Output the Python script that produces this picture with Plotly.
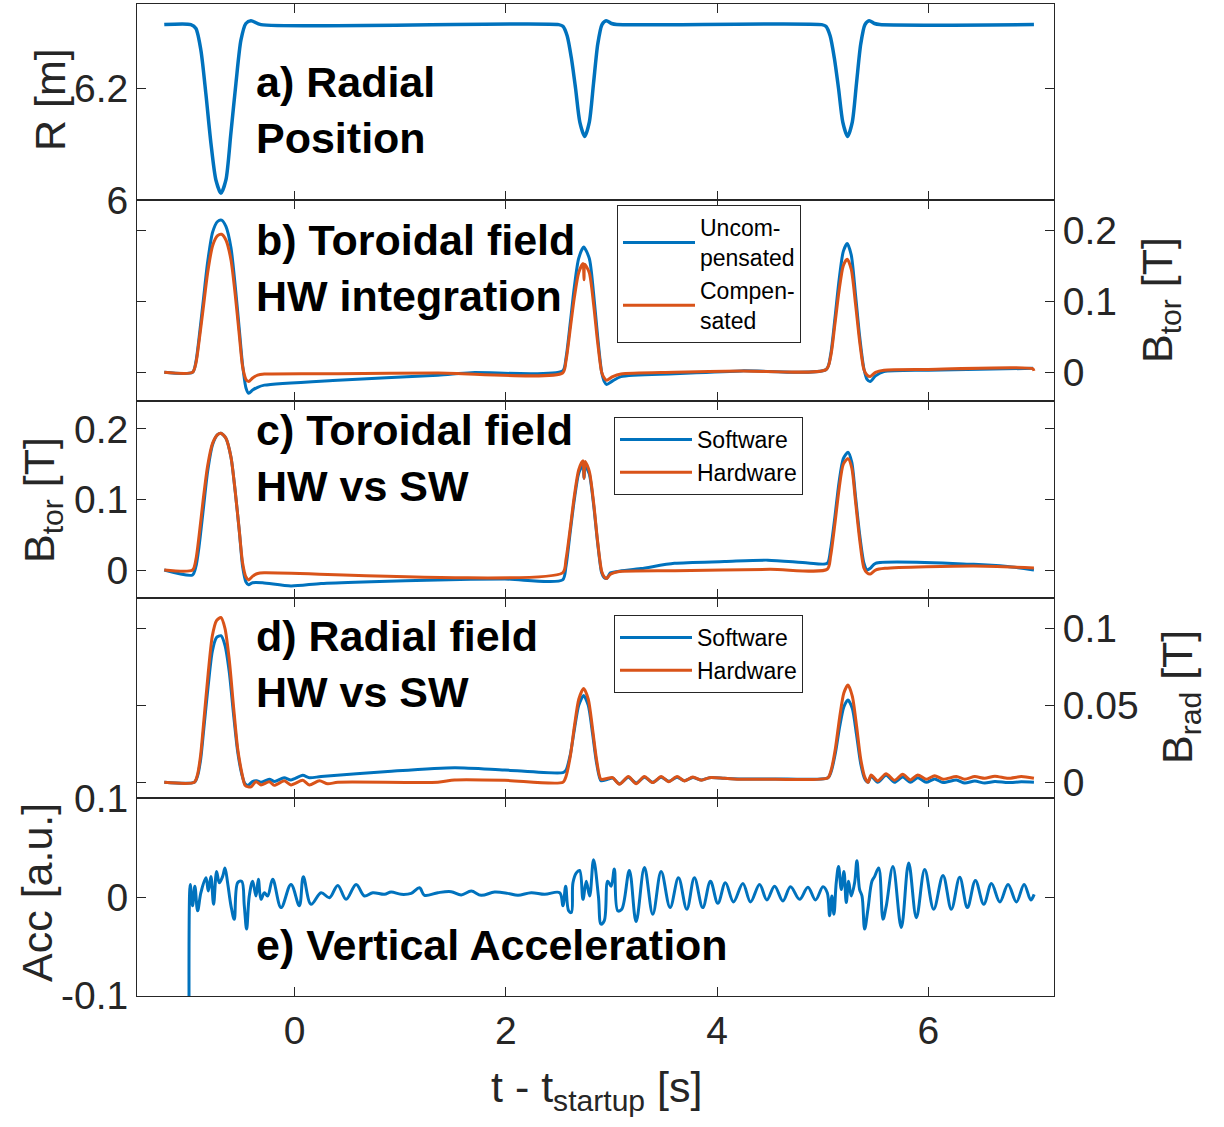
import plotly.graph_objects as go

# ---------------- data ----------------
# a) radial position
t_R = [-1.235, -0.983, -0.935, -0.888, -0.841, -0.793, -0.746, -0.698, -0.651, -0.604, -0.556, -0.509, -0.462, -0.414, -0.319,
       2.50, 2.54, 2.58, 2.62, 2.66, 2.70, 2.746, 2.79, 2.83, 2.87, 2.91, 2.95, 3.0, 3.05,
       4.99, 5.03, 5.07, 5.11, 5.15, 5.19, 5.235, 5.28, 5.32, 5.36, 5.40, 5.44, 5.49, 5.54, 7.0]
R_m = [6.315, 6.315, 6.308, 6.269, 6.191, 6.102, 6.036, 6.012, 6.036, 6.120, 6.210, 6.287, 6.317, 6.322, 6.315,
       6.315, 6.312, 6.295, 6.255, 6.20, 6.14, 6.114, 6.14, 6.21, 6.28, 6.315, 6.322, 6.317, 6.315,
       6.315, 6.312, 6.295, 6.255, 6.20, 6.14, 6.114, 6.14, 6.21, 6.28, 6.315, 6.322, 6.317, 6.315, 6.315]

# b) toroidal field, HW integration
t_b_unc = [-1.235, -0.967, -0.935, -0.904, -0.866, -0.824, -0.777, -0.730, -0.692, -0.651, -0.603, -0.562, -0.524, -0.493, -0.461, -0.436, -0.398, -0.351, -0.287, 0.408, 1.356, 1.672,
           2.537, 2.569, 2.610, 2.648, 2.689, 2.736, 2.79, 2.831, 2.869, 2.907, 2.932, 2.954, 3.011, 3.090, 3.596, 4.228, 5.033,
           5.075, 5.115, 5.155, 5.195, 5.232, 5.27, 5.31, 5.35, 5.39, 5.42, 5.45, 5.50, 5.58, 6.0, 6.99]
B_b_unc = [0.0, 0.0, 0.015, 0.05, 0.10, 0.155, 0.197, 0.212, 0.214, 0.205, 0.175, 0.12, 0.06, 0.01, -0.022, -0.0295, -0.025, -0.021, -0.018, -0.011, -0.004, -0.0005,
           0.002, 0.02, 0.07, 0.12, 0.16, 0.176, 0.16, 0.11, 0.05, 0.0, -0.013, -0.017, -0.012, -0.006, -0.002, 0.002, 0.004,
           0.025, 0.075, 0.13, 0.17, 0.181, 0.165, 0.11, 0.05, 0.005, -0.01, -0.013, -0.005, 0.001, 0.003, 0.0056]
t_b_comp = [-1.235, -0.967, -0.935, -0.904, -0.866, -0.824, -0.777, -0.730, -0.692, -0.651, -0.603, -0.562, -0.524, -0.493, -0.461, -0.436, -0.398, -0.351, -0.287, 0.408, 1.356, 2.537,
            2.569, 2.610, 2.648, 2.689, 2.730, 2.740, 2.746, 2.79, 2.831, 2.869, 2.907, 2.932, 2.954, 3.011, 3.090, 3.596, 4.228, 5.033,
            5.075, 5.115, 5.155, 5.195, 5.232, 5.27, 5.31, 5.35, 5.39, 5.42, 5.45, 5.50, 5.58, 6.0, 6.99, 7.0]
B_b_comp = [0.0, 0.0, 0.013, 0.045, 0.09, 0.14, 0.178, 0.192, 0.194, 0.186, 0.158, 0.108, 0.052, 0.008, -0.010, -0.013, -0.008, -0.004, -0.0025, -0.002, -0.001, -0.001,
            0.016, 0.062, 0.105, 0.14, 0.153, 0.13, 0.152, 0.14, 0.095, 0.042, 0.0, -0.008, -0.011, -0.006, -0.0024, 0.0, 0.002, 0.004,
            0.022, 0.067, 0.115, 0.15, 0.159, 0.145, 0.097, 0.043, 0.004, -0.004, -0.006, 0.0, 0.003, 0.004, 0.005, 0.002]

# c) toroidal field, HW vs SW
t_c_sw = [-1.235, -0.967, -0.935, -0.904, -0.866, -0.824, -0.777, -0.730, -0.698, -0.651, -0.603, -0.562, -0.524, -0.493, -0.461, -0.436, -0.40, -0.303, -0.035, 0.25, 0.724, 1.356, 1.988, 2.537,
          2.569, 2.610, 2.648, 2.689, 2.730, 2.740, 2.750, 2.79, 2.831, 2.869, 2.907, 2.932, 2.954, 2.99, 3.059, 3.28, 3.596, 4.07, 4.48, 4.86, 5.043,
          5.075, 5.115, 5.155, 5.195, 5.239, 5.275, 5.31, 5.35, 5.39, 5.42, 5.45, 5.50, 6.43, 6.75, 7.0]
B_c_sw = [0.0, -0.007, 0.005, 0.035, 0.085, 0.14, 0.178, 0.192, 0.194, 0.187, 0.16, 0.11, 0.055, 0.005, -0.017, -0.021, -0.018, -0.018, -0.0227, -0.019, -0.0165, -0.014, -0.0128, -0.014,
          0.005, 0.055, 0.10, 0.137, 0.149, 0.13, 0.148, 0.136, 0.092, 0.038, -0.004, -0.011, -0.012, -0.004, -0.002, 0.002, 0.0095, 0.012, 0.014, 0.010, 0.0095,
          0.03, 0.075, 0.125, 0.158, 0.167, 0.153, 0.105, 0.05, 0.01, 0.0, 0.0024, 0.0095, 0.008, 0.005, 0.0]
t_c_hw = [-1.235, -0.967, -0.935, -0.904, -0.866, -0.824, -0.777, -0.730, -0.698, -0.651, -0.603, -0.562, -0.524, -0.493, -0.461, -0.436, -0.40, -0.35, -0.29, 2.537,
          2.569, 2.610, 2.648, 2.689, 2.730, 2.740, 2.750, 2.79, 2.831, 2.869, 2.907, 2.932, 2.954, 2.99, 3.06, 3.6, 4.5, 5.043,
          5.075, 5.115, 5.155, 5.195, 5.239, 5.275, 5.31, 5.35, 5.39, 5.42, 5.45, 5.5, 5.59, 6.43, 7.0]
B_c_hw = [0.0, 0.0, 0.015, 0.05, 0.10, 0.148, 0.18, 0.192, 0.194, 0.187, 0.16, 0.11, 0.055, 0.01, -0.01, -0.014, -0.009, -0.005, -0.004, -0.004,
          0.015, 0.06, 0.105, 0.142, 0.155, 0.13, 0.154, 0.14, 0.095, 0.04, -0.002, -0.010, -0.012, -0.006, -0.0024, -0.001, 0.001, 0.001,
          0.02, 0.065, 0.115, 0.15, 0.158, 0.145, 0.098, 0.043, 0.003, -0.004, -0.0057, 0.0, 0.0024, 0.0057, 0.003]

# d) radial field, HW vs SW
t_d_sw = [-1.235, -0.95, -0.92, -0.89, -0.86, -0.82, -0.78, -0.74, -0.698, -0.66, -0.62, -0.58, -0.54, -0.50, -0.47, -0.44, -0.40, -0.36, -0.32, -0.24, -0.19, -0.10, -0.035, 0.076, 0.139, 0.25, 0.882, 1.514, 1.988, 2.54,
          2.57, 2.61, 2.65, 2.69, 2.736, 2.78, 2.82, 2.86, 2.90, 2.964, 3.011, 3.075, 3.16, 3.233, 3.311, 3.39, 3.47, 3.542, 3.621, 3.69, 3.77, 3.85, 3.928, 4.07, 4.228, 4.54, 5.05,
          5.08, 5.12, 5.16, 5.20, 5.239, 5.28, 5.32, 5.36, 5.40, 5.43, 5.458, 5.52, 5.6, 5.68, 5.757, 5.83, 5.9, 5.98, 6.06, 6.14, 6.266, 6.345, 6.44, 6.534, 6.63, 6.755, 6.88, 7.0]
B_d_sw = [0.0, 0.0, 0.004, 0.015, 0.035, 0.062, 0.085, 0.094, 0.0952, 0.089, 0.072, 0.045, 0.02, 0.005, -0.001, -0.002, 0.0005, 0.001, 0.0, 0.002, 0.0005, 0.003, 0.0015, 0.0045, 0.003, 0.0037, 0.007, 0.0095, 0.008, 0.0063,
          0.008, 0.018, 0.035, 0.05, 0.0563, 0.05, 0.032, 0.012, 0.001, 0.002, 0.0028, -0.001, 0.0033, -0.0005, 0.0033, 0.0, 0.0033, 0.0006, 0.0033, 0.001, 0.0031, 0.0015, 0.003, 0.0026, 0.0022, 0.0022, 0.003,
          0.007, 0.019, 0.036, 0.049, 0.0535, 0.048, 0.031, 0.012, 0.002, 0.0, 0.004, 0.0, 0.0045, 0.0, 0.0035, 0.0, 0.003, 0.0, 0.0022, -0.0002, 0.0015, -0.0005, 0.0008, -0.0005, 0.0005, -0.0002, 0.0003, 0.0]
t_d_hw = [-1.235, -0.95, -0.92, -0.89, -0.86, -0.82, -0.78, -0.74, -0.698, -0.66, -0.62, -0.58, -0.54, -0.50, -0.47, -0.44, -0.414, -0.366, -0.319, -0.24, -0.193, -0.098, -0.035, 0.076, 0.139, 0.234, 0.313, 0.408, 1.356, 1.514, 1.988, 2.54,
          2.57, 2.61, 2.65, 2.69, 2.736, 2.78, 2.82, 2.86, 2.90, 2.964, 3.011, 3.075, 3.16, 3.233, 3.311, 3.39, 3.47, 3.542, 3.621, 3.69, 3.77, 3.85, 3.928, 4.07, 4.228, 4.54, 5.05,
          5.08, 5.12, 5.16, 5.20, 5.239, 5.28, 5.32, 5.36, 5.40, 5.43, 5.458, 5.52, 5.6, 5.68, 5.757, 5.83, 5.9, 5.98, 6.06, 6.14, 6.266, 6.345, 6.44, 6.534, 6.63, 6.755, 6.88, 7.0]
B_d_hw = [0.0, 0.0, 0.005, 0.018, 0.04, 0.07, 0.095, 0.105, 0.107, 0.10, 0.08, 0.05, 0.022, 0.006, -0.002, -0.003, -0.003, 0.0004, -0.0017, 0.0004, -0.002, 0.001, -0.0017, 0.0013, -0.0017, 0.001, -0.001, 0.0, 0.0, 0.0015, 0.0013, 0.0,
          0.004, 0.017, 0.037, 0.054, 0.061, 0.054, 0.035, 0.014, 0.002, 0.0026, 0.003, -0.0013, 0.0037, -0.0009, 0.0037, -0.0002, 0.0037, 0.0004, 0.0037, 0.0009, 0.0035, 0.0013, 0.003, 0.0026, 0.002, 0.002, 0.003,
          0.008, 0.022, 0.042, 0.058, 0.0632, 0.056, 0.037, 0.015, 0.003, 0.0, 0.0048, 0.0009, 0.0056, 0.0013, 0.0052, 0.0015, 0.0048, 0.002, 0.0043, 0.002, 0.0037, 0.002, 0.0037, 0.0026, 0.004, 0.0026, 0.0037, 0.0026]

# e) vertical acceleration
t_acc = [-1.0, -0.989, -0.967, -0.945, -0.919, -0.888, -0.840, -0.818, -0.793, -0.768, -0.739, -0.714, -0.682, -0.660, -0.635, -0.603, -0.572, -0.540, -0.502, -0.477, -0.455, -0.430, -0.398, -0.366, -0.344, -0.319, -0.287, -0.256,
         -0.208, -0.129, -0.035, 0.044, 0.082, 0.155, 0.250, 0.329, 0.408, 0.487, 0.582, 0.660, 0.740, 0.850, 0.913, 1.008, 1.103, 1.182, 1.229, 1.356, 1.482, 1.577, 1.672, 1.766, 1.893, 2.018, 2.114, 2.240, 2.367, 2.509,
         2.540, 2.566, 2.594, 2.620, 2.635, 2.667, 2.698, 2.730, 2.761, 2.793, 2.830, 2.876, 2.901, 2.932, 2.964, 2.996, 3.027, 3.059, 3.097, 3.169, 3.233, 3.312, 3.391, 3.470, 3.555, 3.634, 3.713, 3.785, 3.864, 3.937,
         4.007, 4.079, 4.155, 4.244, 4.316, 4.402, 4.471, 4.544, 4.623, 4.695, 4.781, 4.860, 4.932, 5.002, 5.043, 5.065, 5.087, 5.106, 5.128, 5.150, 5.176, 5.201, 5.223, 5.245, 5.270, 5.302, 5.324, 5.349, 5.372, 5.397,
         5.428, 5.466, 5.492, 5.530, 5.571, 5.602, 5.665, 5.744, 5.814, 5.887, 5.966, 6.051, 6.139, 6.218, 6.297, 6.370, 6.446, 6.525, 6.598, 6.677, 6.755, 6.834, 6.907, 6.970, 7.002]
acc = [-0.13, 0.0128, -0.009, 0.011, -0.014, 0.0044, 0.0195, 0.006, 0.021, -0.0074, 0.026, 0.0145, 0.021, 0.0296, 0.0145, -0.009, -0.0226, 0.0145, 0.016, -0.009, -0.0327, 0.001, 0.016, 0.001, 0.018, -0.0024, 0.0044, 0.001,
       0.018, -0.0108, 0.0128, -0.009, 0.0205, -0.0074, 0.0044, -0.0007, 0.0118, -0.0024, 0.0128, 0.001, 0.0044, 0.0027, 0.005, 0.0027, 0.0037, 0.0094, 0.0017, 0.0044, 0.0054, 0.002, 0.006, 0.0017, 0.005, 0.0037, 0.0017, 0.0044, 0.0027, 0.0044,
       -0.009, 0.011, -0.014, -0.0158, 0.0145, 0.0246, 0.027, -0.0024, 0.016, 0.001, 0.038, 0.001, -0.0276, -0.024, 0.016, 0.011, 0.0286, -0.014, -0.0125, 0.027, -0.025, 0.030, -0.0175, 0.026, -0.0108, 0.0195, -0.0125, 0.0195, -0.0108, 0.016,
       -0.0064, 0.0145, -0.005, 0.0138, -0.005, 0.0128, -0.003, 0.011, -0.004, 0.0104, -0.0024, 0.010, -0.003, 0.0104, 0.0044, -0.019, 0.001, -0.0175, 0.0145, 0.031, 0.0077, 0.026, -0.0057, 0.016, 0.001, 0.0145, 0.037, 0.0077, 0.001, -0.0327,
       -0.0125, 0.016, 0.021, 0.0296, -0.0226, -0.009, 0.031, -0.031, 0.0347, -0.021, 0.028, -0.0125, 0.022, -0.0125, 0.020, -0.0108, 0.0168, -0.0074, 0.0138, -0.005, 0.0128, -0.005, 0.0128, -0.003, 0.0027]

x_ticks = [0, 2, 4, 6]

# ---------------- figure ----------------
BLUE = "#0072BD"
ORANGE = "#D95319"
AX = "#262626"
FONT = "Liberation Sans, Arial, sans-serif"

fig = go.Figure()

def line(x, y, color, n, name=None, legend=None, width=3.0, show=False, smooth=0.7):
    fig.add_trace(go.Scatter(x=x, y=y, mode="lines", name=name,
                             line=dict(color=color, width=width, shape="spline", smoothing=smooth),
                             xaxis="x" + ("" if n == 1 else str(n)),
                             yaxis="y" + ("" if n == 1 else str(n)),
                             showlegend=show, legend=legend, hoverinfo="skip"))

line(t_R, R_m, BLUE, 1, width=3.5)
line(t_b_unc, B_b_unc, BLUE, 2, name="Uncom-<br>pensated", legend="legend", show=True)
line(t_b_comp, B_b_comp, ORANGE, 2, name="Compen-<br>sated", legend="legend", show=True)
line(t_c_sw, B_c_sw, BLUE, 3, name="Software", legend="legend2", show=True)
line(t_c_hw, B_c_hw, ORANGE, 3, name="Hardware", legend="legend2", show=True)
line(t_d_sw, B_d_sw, BLUE, 4, name="Software", legend="legend3", show=True)
line(t_d_hw, B_d_hw, ORANGE, 4, name="Hardware", legend="legend3", show=True)
line(t_acc, acc, BLUE, 5, width=3.0, smooth=1.0)

W, H = 1224, 1127
ML, MR, MT, MB = 137, 170, 4, 131
ph = H - MT - MB

def py(p):  # pixel y -> paper
    return (H - MB - p) / ph

def px(p):
    return (p - ML) / (W - ML - MR)

domains = [(py(200), 1.0), (py(401), py(200)), (py(598), py(401)), (py(798), py(598)), (0.0, py(798))]
yranges = [[6.0, 6.352], [-0.0403, 0.2422], [-0.0397, 0.2397], [-0.0102, 0.1197], [-0.1008, 0.1008]]
ytv = [[6.0, 6.2], [0, 0.1, 0.2], [0, 0.1, 0.2], [0, 0.05, 0.1], [-0.1, 0, 0.1]]
ytt = [["6", "6.2"], ["0", "0.1", "0.2"], ["0", "0.1", "0.2"], ["0", "0.05", "0.1"], ["-0.1", "0", "0.1"]]
yside = ["left", "right", "left", "right", "left"]

tickfont = dict(family=FONT, size=39, color=AX)
layout = dict(width=W, height=H, margin=dict(l=ML, r=MR, t=MT, b=MB, autoexpand=False),
              paper_bgcolor="white", plot_bgcolor="white", font=dict(family=FONT))
for i in range(5):
    k = "" if i == 0 else str(i + 1)
    layout["xaxis" + k] = dict(domain=[0, 1], range=[-1.493, 7.19], anchor="y" + k, automargin=False,
                               tickvals=x_ticks, ticktext=[str(v) for v in x_ticks],
                               showticklabels=(i == 4), ticks="inside", ticklen=9, tickwidth=1,
                               tickcolor=AX, showline=True, linecolor=AX, linewidth=1, mirror="ticks",
                               showgrid=False, zeroline=False, tickfont=tickfont)
    layout["yaxis" + k] = dict(domain=list(domains[i]), range=yranges[i], anchor="x" + k, side=yside[i],
                               automargin=False,
                               tickvals=ytv[i], ticktext=ytt[i], ticks="inside", ticklen=9, tickwidth=1,
                               tickcolor=AX, showline=True, linecolor=AX, linewidth=1, mirror="ticks",
                               showgrid=False, zeroline=False, tickfont=tickfont)

legfont = dict(family=FONT, size=23, color="black")
legbase = dict(xanchor="left", yanchor="top", bordercolor=AX, borderwidth=1, bgcolor="white",
               font=legfont, itemwidth=72, tracegroupgap=0, itemclick=False)
layout["legend"] = dict(legbase, x=px(617), y=py(205))
layout["legend2"] = dict(legbase, x=px(614), y=py(417))
layout["legend3"] = dict(legbase, x=px(614), y=py(615))

fig.update_layout(**layout)

# panel labels
bold = dict(family=FONT, size=43, color="black")
labels = [("<b>a) Radial<br>Position</b>", 110), ("<b>b) Toroidal field<br>HW integration</b>", 268),
          ("<b>c) Toroidal field<br>HW vs SW</b>", 458), ("<b>d) Radial field<br>HW vs SW</b>", 664),
          ("<b>e) Vertical Acceleration</b>", 945)]
for txt, yc in labels:
    fig.add_annotation(text=txt, xref="paper", yref="paper", x=px(254), y=py(yc), xanchor="left",
                       yanchor="middle", align="left", showarrow=False, font=bold)

# axis titles
tfont = dict(family=FONT, size=43, color=AX)
titles = [("R [m]", 50, 100, -90), ("B<sub>tor</sub> [T]", 42, 500, -90), ("Acc [a.u.]", 37, 893, -90),
          ("B<sub>tor</sub> [T]", 1160, 300, -90), ("B<sub>rad</sub> [T]", 1180, 697, -90),
          ("t - t<sub>startup</sub> [s]", 596, 1090, 0)]
for txt, x0, y0, ang in titles:
    fig.add_annotation(text=txt, xref="paper", yref="paper", x=px(x0), y=py(y0), xanchor="center",
                       yanchor="middle", showarrow=False, font=tfont, textangle=ang)

fig.write_html("out.html", config={"displayModeBar": False},
               post_script="document.body.style.margin='0px';")
